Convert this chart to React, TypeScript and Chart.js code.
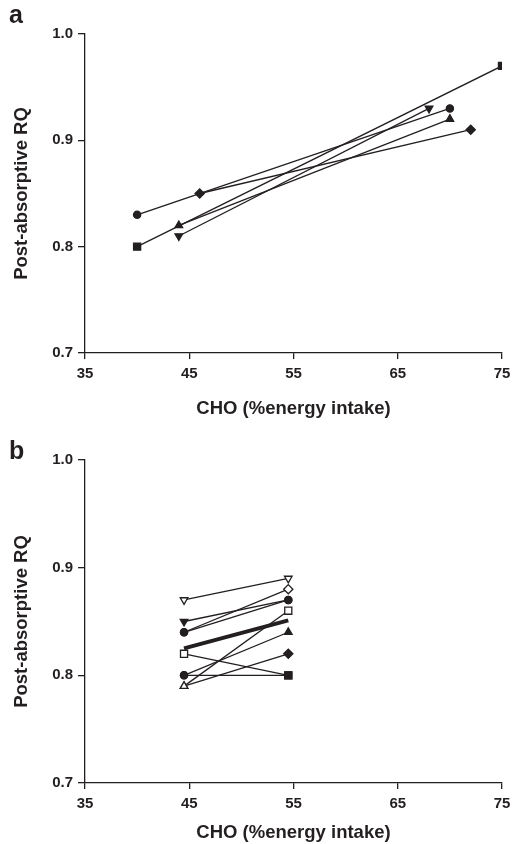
import React, { useEffect, useRef } from "react";
import { Chart, registerables } from "chart.js";

Chart.register(...registerables);

// ---- axes ----
const xTickValues = [35, 45, 55, 65, 75];
const yTickValues = [0.7, 0.8, 0.9, 1.0];
const xTitle = "CHO (%energy intake)";
const yTitle = "Post-absorptive RQ";

// ---- panel a: one line per study (low CHO -> high CHO) ----
const aSquareCHO = [40, 75];
const aSquareRQ = [0.8, 0.97];
const aCircleCHO = [40, 70];
const aCircleRQ = [0.83, 0.93];
const aDiamondCHO = [46, 72];
const aDiamondRQ = [0.85, 0.91];
const aTriUpCHO = [44, 70];
const aTriUpRQ = [0.82, 0.92];
const aTriDownCHO = [44, 68];
const aTriDownRQ = [0.81, 0.93];

// ---- panel b: individual subjects at two CHO intakes ----
const bCHO = [44.5, 54.5];
const bS1RQ = [0.87, 0.89];
const bS2RQ = [0.85, 0.87];
const bS3RQ = [0.84, 0.87];
const bS4RQ = [0.84, 0.88];
const bS5RQ = [0.82, 0.8];
const bS6RQ = [0.8, 0.8];
const bS7RQ = [0.8, 0.84];
const bS8RQ = [0.79, 0.86];
const bS9RQ = [0.79, 0.82];
const bMeanRQ = [0.825, 0.851];

const INK = "#231f20";
const FONT = "'Liberation Sans', Arial, Helvetica, sans-serif";

type MarkKey = "sq" | "osq" | "ci" | "oci" | "di" | "odi" | "tu" | "otu" | "td" | "otd" | "none";
const MARK: Record<MarkKey, { style: any; rot: number; fill: string; r: number }> = {
  sq: { style: "rect", rot: 0, fill: INK, r: 5 },
  osq: { style: "rect", rot: 0, fill: "#fff", r: 5 },
  ci: { style: "circle", rot: 0, fill: INK, r: 3.6 },
  oci: { style: "circle", rot: 0, fill: "#fff", r: 3.6 },
  di: { style: "rectRot", rot: 0, fill: INK, r: 4.6 },
  odi: { style: "rectRot", rot: 0, fill: "#fff", r: 4.6 },
  tu: { style: "triangle", rot: 0, fill: INK, r: 4.4 },
  otu: { style: "triangle", rot: 0, fill: "#fff", r: 4.4 },
  td: { style: "triangle", rot: 180, fill: INK, r: 4.4 },
  otd: { style: "triangle", rot: 180, fill: "#fff", r: 4.4 },
  none: { style: "circle", rot: 0, fill: INK, r: 0 },
};

type Series = { x: number[]; y: number[]; marks: MarkKey[]; width?: number };

const seriesA: Series[] = [
  { x: aSquareCHO, y: aSquareRQ, marks: ["sq", "sq"] },
  { x: aCircleCHO, y: aCircleRQ, marks: ["ci", "ci"] },
  { x: aDiamondCHO, y: aDiamondRQ, marks: ["di", "di"] },
  { x: aTriUpCHO, y: aTriUpRQ, marks: ["tu", "tu"] },
  { x: aTriDownCHO, y: aTriDownRQ, marks: ["td", "td"] },
];

const seriesB: Series[] = [
  { x: bCHO, y: bMeanRQ, marks: ["none", "none"], width: 4 },
  { x: bCHO, y: bS1RQ, marks: ["otd", "otd"] },
  { x: bCHO, y: bS2RQ, marks: ["td", "ci"] },
  { x: bCHO, y: bS3RQ, marks: ["ci", "ci"] },
  { x: bCHO, y: bS4RQ, marks: ["oci", "odi"] },
  { x: bCHO, y: bS5RQ, marks: ["osq", "sq"] },
  { x: bCHO, y: bS6RQ, marks: ["ci", "sq"] },
  { x: bCHO, y: bS7RQ, marks: ["ci", "tu"] },
  { x: bCHO, y: bS8RQ, marks: ["otu", "osq"] },
  { x: bCHO, y: bS9RQ, marks: ["otu", "di"] },
];

type Geo = { padTop: number; plotBottom: number; titlePadBottom: number; letterTop: number };

function Panel({ letter, series, geo }: { letter: string; series: Series[]; geo: Geo }) {
  const ref = useRef<HTMLCanvasElement>(null);
  useEffect(() => {
    const H = 422;
    const chart = new Chart(ref.current as HTMLCanvasElement, {
      type: "line",
      data: {
        datasets: series.map((s) => ({
          data: s.x.map((x, i) => ({ x, y: s.y[i] })),
          borderColor: INK,
          borderWidth: s.width ?? 1.3,
          pointStyle: s.marks.map((m) => MARK[m].style),
          pointRotation: s.marks.map((m) => MARK[m].rot),
          pointBackgroundColor: s.marks.map((m) => MARK[m].fill),
          pointBorderColor: INK,
          pointBorderWidth: 1.3,
          pointRadius: s.marks.map((m) => MARK[m].r),
          tension: 0,
          fill: false,
        })),
      },
      options: {
        responsive: false,
        animation: false,
        events: [],
        layout: { padding: { top: geo.padTop, right: 10, left: 0, bottom: 0 } },
        plugins: { legend: { display: false }, tooltip: { enabled: false } },
        scales: {
          x: {
            type: "linear",
            min: 35,
            max: 75,
            afterBuildTicks: (sc: any) => {
              sc.ticks = xTickValues.map((v) => ({ value: v }));
            },
            afterFit: (sc: any) => {
              sc.height = H - geo.plotBottom;
              sc.paddingRight = 0;
              sc.paddingLeft = 0;
            },
            ticks: { color: INK, font: { family: FONT, size: 15, weight: "bold" }, padding: 6, maxRotation: 0 },
            grid: { display: true, drawOnChartArea: false, drawTicks: true, tickLength: 6, color: INK, lineWidth: 1.3 },
            border: { color: INK, width: 1.3 },
            title: {
              display: true,
              text: xTitle,
              color: INK,
              font: { family: FONT, size: 18.5, weight: "bold" },
              padding: { top: 0, bottom: geo.titlePadBottom },
            },
          },
          y: {
            type: "linear",
            min: 0.7,
            max: 1.0,
            afterBuildTicks: (sc: any) => {
              sc.ticks = yTickValues.map((v) => ({ value: v }));
            },
            afterFit: (sc: any) => {
              sc.width = 85;
              sc.paddingTop = 0;
              sc.paddingBottom = 0;
            },
            ticks: {
              color: INK,
              font: { family: FONT, size: 15, weight: "bold" },
              padding: 5,
              callback: (v: any) => Number(v).toFixed(1),
            },
            grid: { display: true, drawOnChartArea: false, drawTicks: true, tickLength: 7, color: INK, lineWidth: 1.3 },
            border: { color: INK, width: 1.3 },
            title: {
              display: true,
              text: yTitle,
              color: INK,
              font: { family: FONT, size: 18.5, weight: "bold" },
              padding: { top: 11, bottom: 0 },
            },
          },
        },
      },
    } as any);
    return () => chart.destroy();
  }, []);
  return (
    <div style={{ position: "relative", width: 512, height: 422 }}>
      <canvas ref={ref} width={512} height={422} style={{ display: "block" }} />
      <div
        style={{
          position: "absolute",
          left: 9,
          top: geo.letterTop,
          fontFamily: FONT,
          fontWeight: "bold",
          fontSize: 25,
          lineHeight: "25px",
          color: INK,
        }}
      >
        {letter}
      </div>
    </div>
  );
}

export default function App() {
  return (
    <div style={{ position: "absolute", left: 0, top: 0, width: 512, height: 844, background: "#fff" }}>
      <Panel letter="a" series={seriesA} geo={{ padTop: 34, plotBottom: 353, titlePadBottom: 2, letterTop: 2 }} />
      <Panel letter="b" series={seriesB} geo={{ padTop: 38, plotBottom: 361, titlePadBottom: 0, letterTop: 16 }} />
    </div>
  );
}
